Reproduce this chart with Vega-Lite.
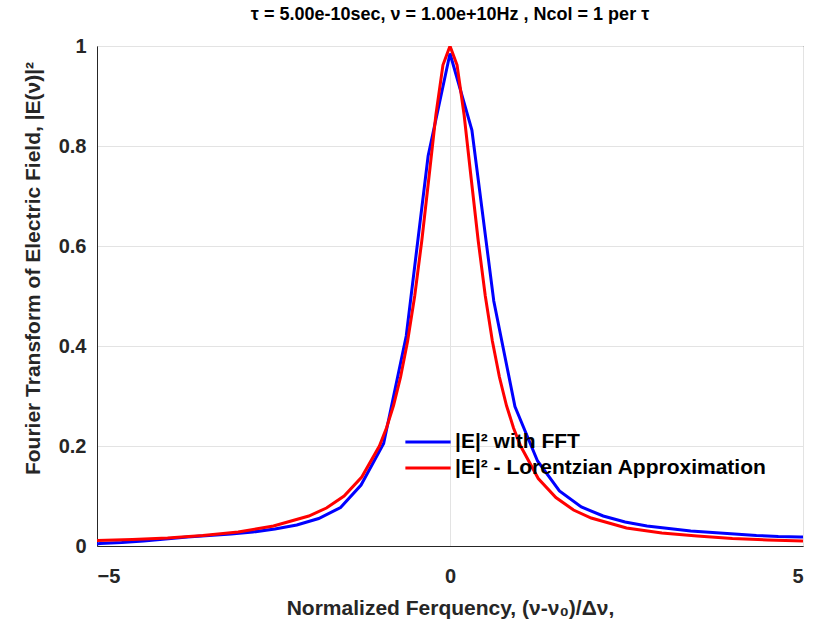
{
  "$schema": "https://vega.github.io/schema/vega-lite/v6.json",
  "width": 706,
  "height": 500,
  "autosize": {"type": "none"},
  "padding": {"left": 97, "top": 46, "right": 14, "bottom": 80},
  "background": "white",
  "config": {
    "font": "Liberation Sans",
    "view": {"stroke": "#262626", "strokeWidth": 1},
    "axis": {
      "labelFont": "Liberation Sans",
      "labelFontWeight": "bold",
      "labelFontSize": 20,
      "labelColor": "#262626",
      "titleFont": "Liberation Sans",
      "titleFontWeight": "bold",
      "titleFontSize": 21,
      "titleColor": "#262626",
      "domainColor": "#262626",
      "tickColor": "#262626",
      "gridColor": "#e3e3e3",
      "gridWidth": 1
    }
  },
  "title": {
    "text": "τ = 5.00e-10sec, ν = 1.00e+10Hz , Ncol = 1 per τ",
    "font": "Liberation Sans",
    "fontSize": 18,
    "fontWeight": "bold",
    "color": "#000000",
    "anchor": "middle",
    "offset": 12
  },
  "datasets": {
    "fft": [
      {"x": -5.0, "y": 0.004, "s": "|E|² with FFT"},
      {"x": -4.96, "y": 0.005, "s": "|E|² with FFT"},
      {"x": -4.65, "y": 0.007, "s": "|E|² with FFT"},
      {"x": -4.34, "y": 0.010, "s": "|E|² with FFT"},
      {"x": -4.03, "y": 0.014, "s": "|E|² with FFT"},
      {"x": -3.72, "y": 0.018, "s": "|E|² with FFT"},
      {"x": -3.41, "y": 0.021, "s": "|E|² with FFT"},
      {"x": -3.10, "y": 0.024, "s": "|E|² with FFT"},
      {"x": -2.79, "y": 0.028, "s": "|E|² with FFT"},
      {"x": -2.48, "y": 0.034, "s": "|E|² with FFT"},
      {"x": -2.17, "y": 0.042, "s": "|E|² with FFT"},
      {"x": -1.86, "y": 0.055, "s": "|E|² with FFT"},
      {"x": -1.55, "y": 0.077, "s": "|E|² with FFT"},
      {"x": -1.26, "y": 0.122, "s": "|E|² with FFT"},
      {"x": -0.94, "y": 0.205, "s": "|E|² with FFT"},
      {"x": -0.62, "y": 0.42, "s": "|E|² with FFT"},
      {"x": -0.31, "y": 0.78, "s": "|E|² with FFT"},
      {"x": 0.0, "y": 0.985, "s": "|E|² with FFT"},
      {"x": 0.31, "y": 0.832, "s": "|E|² with FFT"},
      {"x": 0.62, "y": 0.49, "s": "|E|² with FFT"},
      {"x": 0.92, "y": 0.279, "s": "|E|² with FFT"},
      {"x": 1.24, "y": 0.17, "s": "|E|² with FFT"},
      {"x": 1.55, "y": 0.11, "s": "|E|² with FFT"},
      {"x": 1.86, "y": 0.078, "s": "|E|² with FFT"},
      {"x": 2.17, "y": 0.060, "s": "|E|² with FFT"},
      {"x": 2.48, "y": 0.048, "s": "|E|² with FFT"},
      {"x": 2.79, "y": 0.040, "s": "|E|² with FFT"},
      {"x": 3.10, "y": 0.035, "s": "|E|² with FFT"},
      {"x": 3.41, "y": 0.030, "s": "|E|² with FFT"},
      {"x": 3.72, "y": 0.027, "s": "|E|² with FFT"},
      {"x": 4.03, "y": 0.024, "s": "|E|² with FFT"},
      {"x": 4.34, "y": 0.021, "s": "|E|² with FFT"},
      {"x": 4.65, "y": 0.019, "s": "|E|² with FFT"},
      {"x": 4.96, "y": 0.018, "s": "|E|² with FFT"},
      {"x": 5.0, "y": 0.018, "s": "|E|² with FFT"}
    ],
    "lor": [
      {"x": -5.0, "y": 0.011, "s": "|E|² - Lorentzian Approximation"},
      {"x": -4.5, "y": 0.013, "s": "|E|² - Lorentzian Approximation"},
      {"x": -4.0, "y": 0.016, "s": "|E|² - Lorentzian Approximation"},
      {"x": -3.5, "y": 0.021, "s": "|E|² - Lorentzian Approximation"},
      {"x": -3.0, "y": 0.028, "s": "|E|² - Lorentzian Approximation"},
      {"x": -2.5, "y": 0.040, "s": "|E|² - Lorentzian Approximation"},
      {"x": -2.0, "y": 0.060, "s": "|E|² - Lorentzian Approximation"},
      {"x": -1.75, "y": 0.076, "s": "|E|² - Lorentzian Approximation"},
      {"x": -1.5, "y": 0.100, "s": "|E|² - Lorentzian Approximation"},
      {"x": -1.25, "y": 0.138, "s": "|E|² - Lorentzian Approximation"},
      {"x": -1.0, "y": 0.200, "s": "|E|² - Lorentzian Approximation"},
      {"x": -0.9, "y": 0.236, "s": "|E|² - Lorentzian Approximation"},
      {"x": -0.8, "y": 0.281, "s": "|E|² - Lorentzian Approximation"},
      {"x": -0.7, "y": 0.338, "s": "|E|² - Lorentzian Approximation"},
      {"x": -0.6, "y": 0.410, "s": "|E|² - Lorentzian Approximation"},
      {"x": -0.5, "y": 0.500, "s": "|E|² - Lorentzian Approximation"},
      {"x": -0.4, "y": 0.610, "s": "|E|² - Lorentzian Approximation"},
      {"x": -0.3, "y": 0.735, "s": "|E|² - Lorentzian Approximation"},
      {"x": -0.2, "y": 0.862, "s": "|E|² - Lorentzian Approximation"},
      {"x": -0.1, "y": 0.962, "s": "|E|² - Lorentzian Approximation"},
      {"x": 0.0, "y": 1.0, "s": "|E|² - Lorentzian Approximation"},
      {"x": 0.1, "y": 0.962, "s": "|E|² - Lorentzian Approximation"},
      {"x": 0.2, "y": 0.862, "s": "|E|² - Lorentzian Approximation"},
      {"x": 0.3, "y": 0.735, "s": "|E|² - Lorentzian Approximation"},
      {"x": 0.4, "y": 0.610, "s": "|E|² - Lorentzian Approximation"},
      {"x": 0.5, "y": 0.500, "s": "|E|² - Lorentzian Approximation"},
      {"x": 0.6, "y": 0.410, "s": "|E|² - Lorentzian Approximation"},
      {"x": 0.7, "y": 0.338, "s": "|E|² - Lorentzian Approximation"},
      {"x": 0.8, "y": 0.281, "s": "|E|² - Lorentzian Approximation"},
      {"x": 0.9, "y": 0.236, "s": "|E|² - Lorentzian Approximation"},
      {"x": 1.0, "y": 0.200, "s": "|E|² - Lorentzian Approximation"},
      {"x": 1.25, "y": 0.135, "s": "|E|² - Lorentzian Approximation"},
      {"x": 1.5, "y": 0.097, "s": "|E|² - Lorentzian Approximation"},
      {"x": 1.75, "y": 0.072, "s": "|E|² - Lorentzian Approximation"},
      {"x": 2.0, "y": 0.056, "s": "|E|² - Lorentzian Approximation"},
      {"x": 2.5, "y": 0.036, "s": "|E|² - Lorentzian Approximation"},
      {"x": 3.0, "y": 0.026, "s": "|E|² - Lorentzian Approximation"},
      {"x": 3.5, "y": 0.020, "s": "|E|² - Lorentzian Approximation"},
      {"x": 4.0, "y": 0.015, "s": "|E|² - Lorentzian Approximation"},
      {"x": 4.5, "y": 0.012, "s": "|E|² - Lorentzian Approximation"},
      {"x": 5.0, "y": 0.010, "s": "|E|² - Lorentzian Approximation"}
    ]
  },
  "encoding": {
    "x": {
      "field": "x",
      "type": "quantitative",
      "scale": {"domain": [-5, 5], "nice": false, "zero": false},
      "axis": {
        "values": [-5, 0, 5],
        "title": "Normalized Ferquency, (ν-ν₀)/Δν,",
        "tickSize": 0,
        "labelPadding": 20,
        "titlePadding": 11,
        "grid": true
      }
    },
    "y": {
      "field": "y",
      "type": "quantitative",
      "scale": {"domain": [0, 1], "nice": false},
      "axis": {
        "values": [0, 0.2, 0.4, 0.6, 0.8, 1],
        "format": ".1~f",
        "title": "Fourier Transform of Electric Field, |E(ν)|²",
        "tickSize": 0,
        "labelPadding": 11,
        "titlePadding": 15,
        "titleY": 222,
        "grid": true
      }
    },
    "color": {
      "field": "s",
      "type": "nominal",
      "scale": {
        "domain": ["|E|² with FFT", "|E|² - Lorentzian Approximation"],
        "range": ["#0000ff", "#ff0000"]
      },
      "legend": {
        "title": null,
        "orient": "none",
        "legendX": 315,
        "legendY": 380,
        "symbolType": "M-1.6,0H1.6",
        "symbolStrokeWidth": 3,
        "symbolSize": 800,
        "labelFont": "Liberation Sans",
        "labelFontSize": 21,
        "labelFontWeight": "bold",
        "labelColor": "#000000",
        "labelOffset": 11,
        "rowPadding": 0,
        "labelLimit": 500
      }
    }
  },
  "layer": [
    {"data": {"name": "fft"}, "mark": {"type": "line", "strokeWidth": 3, "clip": true}},
    {"data": {"name": "lor"}, "mark": {"type": "line", "strokeWidth": 3, "clip": true}}
  ]
}
